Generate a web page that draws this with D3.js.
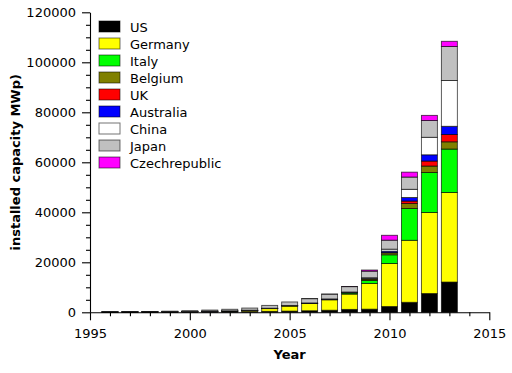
<html>
<head>
<script src="https://cdn.jsdelivr.net/npm/d3@7"></script>
<style>
  body { margin: 0; padding: 0; background: #fff; }
  text { font-family: "DejaVu Sans", sans-serif; }
</style>
</head>
<body>
<div id="chart"></div>
<script>
// installed PV capacity (MWp), cumulative, per country
const years = [1996, 1997, 1998, 1999, 2000, 2001, 2002, 2003, 2004, 2005, 2006, 2007, 2008, 2009, 2010, 2011, 2012, 2013];
const countries = ["US", "Germany", "Italy", "Belgium", "UK", "Australia", "China", "Japan", "Czechrepublic"];
const colors = ["#000000", "#ffff00", "#00ff00", "#808000", "#ff0000", "#0000ff", "#ffffff", "#c0c0c0", "#ff00ff"];

const us        = [77, 88, 100, 117, 139, 168, 212, 275, 376, 479, 624, 831, 1168, 1256, 2300, 4000, 7500, 12100];
const germany   = [28, 42, 54, 70, 114, 195, 260, 435, 1105, 2056, 2899, 4170, 6120, 10300, 17200, 24800, 32400, 35800];
const italy     = [16, 17, 18, 18, 19, 20, 22, 26, 31, 37, 50, 120, 458, 1181, 3500, 12700, 16000, 17400];
const belgium   = [0, 0, 0, 0, 0, 0, 0, 0, 0, 0, 4, 23, 108, 574, 787, 2000, 2600, 2900];
const uk        = [0, 0, 0, 0, 2, 4, 4, 6, 8, 11, 14, 18, 22, 27, 95, 1000, 2000, 2900];
const australia = [16, 19, 23, 27, 30, 34, 39, 46, 52, 61, 70, 83, 105, 188, 571, 1400, 2500, 3300];
const china     = [11, 13, 15, 17, 19, 24, 42, 52, 62, 70, 80, 100, 140, 300, 800, 3300, 7000, 18300];
const japan     = [60, 91, 133, 209, 330, 453, 637, 860, 1132, 1422, 1708, 1919, 2144, 2627, 3600, 4900, 6700, 13600];
const czech     = [0, 0, 0, 0, 0, 0, 0, 0, 0, 0, 1, 4, 54, 463, 1953, 1959, 2072, 2100];

const series = [us, germany, italy, belgium, uk, australia, china, japan, czech];

const yMajor = [0, 20000, 40000, 60000, 80000, 100000, 120000];
const xMajor = [1995, 2000, 2005, 2010, 2015];

const width = 512, height = 373;

const svg = d3.select("#chart").append("svg")
  .attr("width", width)
  .attr("height", height);

const x = d3.scaleLinear().domain([1995, 2015]).range([90, 489.3]);
const y = d3.scaleLinear().domain([0, 120000]).range([312.3, 12.3]);

// rows for the stack
const rows = years.map((yr, i) => {
  const r = { year: yr };
  countries.forEach((c, j) => r[c] = series[j][i]);
  return r;
});
const stacked = d3.stack().keys(countries)(rows);
const colorScale = d3.scaleOrdinal().domain(countries).range(colors);

const barW = x(1995.8) - x(1995);

svg.append("g").selectAll("g")
  .data(stacked)
  .enter().append("g")
  .attr("fill", d => colorScale(d.key))
  .selectAll("rect")
  .data(d => d)
  .enter().append("rect")
  .attr("x", d => x(d.data.year) - barW / 2)
  .attr("y", d => y(d[1]))
  .attr("width", barW)
  .attr("height", d => y(d[0]) - y(d[1]))
  .attr("stroke", "#000")
  .attr("stroke-opacity", 0.7)
  .attr("stroke-width", 0.9);

// y axis
const yMinor = d3.range(0, 120001, 5000).filter(v => v % 20000 !== 0);
svg.append("g")
  .attr("transform", "translate(90,0)")
  .call(d3.axisLeft(y).tickValues(yMinor).tickSize(4).tickFormat("").tickSizeOuter(0))
  .call(g => g.select(".domain").remove());
const yAx = svg.append("g")
  .attr("transform", "translate(90,0)")
  .call(d3.axisLeft(y).tickValues(yMajor).tickSize(8).tickPadding(6).tickFormat(d3.format("d")).tickSizeOuter(0));

// x axis
const xMinor = d3.range(1995, 2016).filter(v => v % 5 !== 0);
svg.append("g")
  .attr("transform", "translate(0,312.3)")
  .call(d3.axisBottom(x).tickValues(xMinor).tickSize(4).tickFormat("").tickSizeOuter(0))
  .call(g => g.select(".domain").remove());
const xAx = svg.append("g")
  .attr("transform", "translate(0,312.3)")
  .call(d3.axisBottom(x).tickValues(xMajor).tickSize(8).tickFormat(d3.format("d")).tickSizeOuter(0));
xAx.selectAll(".tick text").attr("y", 25.5).attr("dy", null);

svg.selectAll(".domain, .tick line").attr("stroke", "#000").attr("stroke-width", 1.1);
svg.selectAll(".tick text")
  .attr("font-size", 13)
  .attr("font-family", "DejaVu Sans")
  .attr("fill", "#000");

// axis labels
svg.append("text")
  .attr("x", (x(1995) + x(2015)) / 2)
  .attr("y", 358.5)
  .attr("text-anchor", "middle")
  .attr("font-size", 13)
  .attr("font-weight", "bold")
  .text("Year");

svg.append("text")
  .attr("transform", `translate(19.5,${(y(0) + y(120000)) / 2}) rotate(-90)`)
  .attr("text-anchor", "middle")
  .attr("font-size", 13)
  .attr("font-weight", "bold")
  .text("installed capacity MWp)");

// legend
const legend = svg.append("g").attr("transform", "translate(99,21)");
const item = legend.selectAll("g")
  .data(countries)
  .enter().append("g")
  .attr("transform", (d, i) => `translate(0,${i * 17})`);
item.append("rect")
  .attr("width", 21)
  .attr("height", 11)
  .attr("fill", d => colorScale(d))
  .attr("stroke", "#000")
  .attr("stroke-opacity", 0.55)
  .attr("stroke-width", 1);
item.append("text")
  .attr("x", 31)
  .attr("y", 10.5)
  .attr("font-size", 13)
  .attr("fill", "#000")
  .text(d => d);
</script>
</body>
</html>
